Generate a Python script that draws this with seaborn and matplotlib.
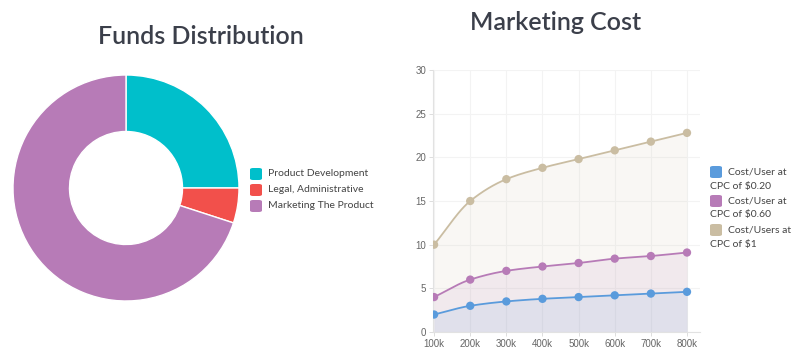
import numpy as np
import matplotlib
matplotlib.use("Agg")
import matplotlib.pyplot as plt
from matplotlib.patches import FancyBboxPatch
import seaborn as sns

# --- dados ---
fund_labels = ['Product Development', 'Legal, Administrative', 'Marketing The Product']
fund_shares = [25, 5, 70]
fund_colors = ['#00BFCB', '#F2504B', '#B77BB7']

user_steps = ['100k', '200k', '300k', '400k', '500k', '600k', '700k', '800k']
cost_020 = [2.0, 3.0, 3.5, 3.8, 4.0, 4.2, 4.4, 4.6]
cost_060 = [4.0, 6.0, 7.0, 7.5, 7.9, 8.4, 8.7, 9.1]
cost_100 = [10.0, 15.0, 17.5, 18.8, 19.8, 20.8, 21.8, 22.8]
series_lines = [('Cost/User at', 'CPC of \\$0.20'),
                ('Cost/User at', 'CPC of \\$0.60'),
                ('Cost/Users at', 'CPC of \\$1')]
series_colors = ['#5A9BDC', '#B77BB7', '#CABDA2']

TITLE_COLOR = '#3B3F4A'
TEXT_COLOR = '#444444'

sns.set_theme(style="white")
plt.rcParams['font.family'] = ['Lato', 'DejaVu Sans']


def smooth(y, n=24):
    """Curva monotona (Fritsch-Carlson) so para o desenho da linha."""
    y = np.asarray(y, float)
    d = np.diff(y)
    m = np.zeros_like(y)
    m[0], m[-1] = d[0], d[-1]
    for i in range(1, len(y) - 1):
        m[i] = 0 if d[i - 1] * d[i] <= 0 else 2 / (1 / d[i - 1] + 1 / d[i])
    xs, ys = [], []
    for i in range(len(y) - 1):
        t = np.linspace(0, 1, n, endpoint=(i == len(y) - 2))
        h00 = 2 * t**3 - 3 * t**2 + 1
        h10 = t**3 - 2 * t**2 + t
        h01 = -2 * t**3 + 3 * t**2
        h11 = t**3 - t**2
        xs.append(i + t)
        ys.append(h00 * y[i] + h10 * m[i] + h01 * y[i + 1] + h11 * m[i + 1])
    return np.concatenate(xs), np.concatenate(ys)


def legend_box(fig, x, y, color, size=12):
    W, H = fig.get_size_inches() * fig.dpi
    fig.patches.append(FancyBboxPatch((x / W, (H - y - size) / H), size / W, size / H,
                                      boxstyle="round,pad=0,rounding_size=0.004",
                                      transform=fig.transFigure, fc=color, ec='none'))


fig = plt.figure(figsize=(8, 3.59), dpi=100)
W, H = 800, 359

# --- donut ---
ax1 = fig.add_axes([13 / W, (H - 301) / H, 226 / W, 226 / H])
ax1.pie(fund_shares, colors=fund_colors, startangle=90, counterclock=False,
        radius=1, wedgeprops=dict(width=0.5, edgecolor='white', linewidth=1))
ax1.set_xlim(-1, 1)
ax1.set_ylim(-1, 1)
ax1.set_aspect('equal')
ax1.axis('off')
fig.text(201 / W, (H - 36) / H, 'Funds Distribution', ha='center', va='center',
         fontsize=18, fontweight='semibold', color=TITLE_COLOR)

for i, (lab, col) in enumerate(zip(fund_labels, fund_colors)):
    yc = 174 + 16 * i
    legend_box(fig, 250, yc - 6, col)
    fig.text(268 / W, (H - yc) / H, lab, ha='left', va='center', fontsize=7.5,
             color=TEXT_COLOR)

# --- linhas ---
ax2 = fig.add_axes([433 / W, (H - 332) / H, 267 / W, 262 / H])
pos = np.arange(len(user_steps))
for vals, col in zip([cost_100, cost_060, cost_020], series_colors[::-1]):
    xs, ys = smooth(vals)
    ax2.fill_between(xs, 0, ys, color=col, alpha=0.11, linewidth=0, zorder=1)
    sns.lineplot(x=xs, y=ys, ax=ax2, color=col, linewidth=1.3, zorder=3)
    sns.scatterplot(x=pos, y=vals, ax=ax2, color=col, s=36, edgecolor='none', zorder=4)

ax2.set_xlim(-0.03, 7.36)
ax2.set_ylim(0, 30)
ax2.set_xticks(pos)
ax2.set_xticklabels(user_steps)
ax2.set_yticks(range(0, 31, 5))
ax2.grid(True, color='#F3F3F3', linewidth=0.8)
ax2.set_axisbelow(True)
for s in ['top', 'right']:
    ax2.spines[s].set_visible(False)
for s in ['left', 'bottom']:
    ax2.spines[s].set_color('#E2E2E2')
    ax2.spines[s].set_linewidth(0.8)
ax2.tick_params(axis='both', length=3, width=0.6, color='#D8D8D8', labelsize=7,
                labelcolor='#666666', pad=2, bottom=True, left=True)
for t in ax2.get_xticklabels() + ax2.get_yticklabels():
    t.set_family(['Liberation Sans', 'DejaVu Sans'])

fig.text(556 / W, (H - 22) / H, 'Marketing Cost', ha='center', va='center',
         fontsize=18, fontweight='semibold', color=TITLE_COLOR)

for i, ((l1, l2), col) in enumerate(zip(series_lines, series_colors)):
    ytop = 166 + 29 * i
    legend_box(fig, 710, ytop, col)
    fig.text(728 / W, (H - ytop - 6) / H, l1, ha='left', va='center', fontsize=7.5,
             color=TEXT_COLOR)
    fig.text(710 / W, (H - ytop - 20) / H, l2, ha='left', va='center', fontsize=7.5,
             color=TEXT_COLOR)

fig.savefig('out.png', dpi=100)
